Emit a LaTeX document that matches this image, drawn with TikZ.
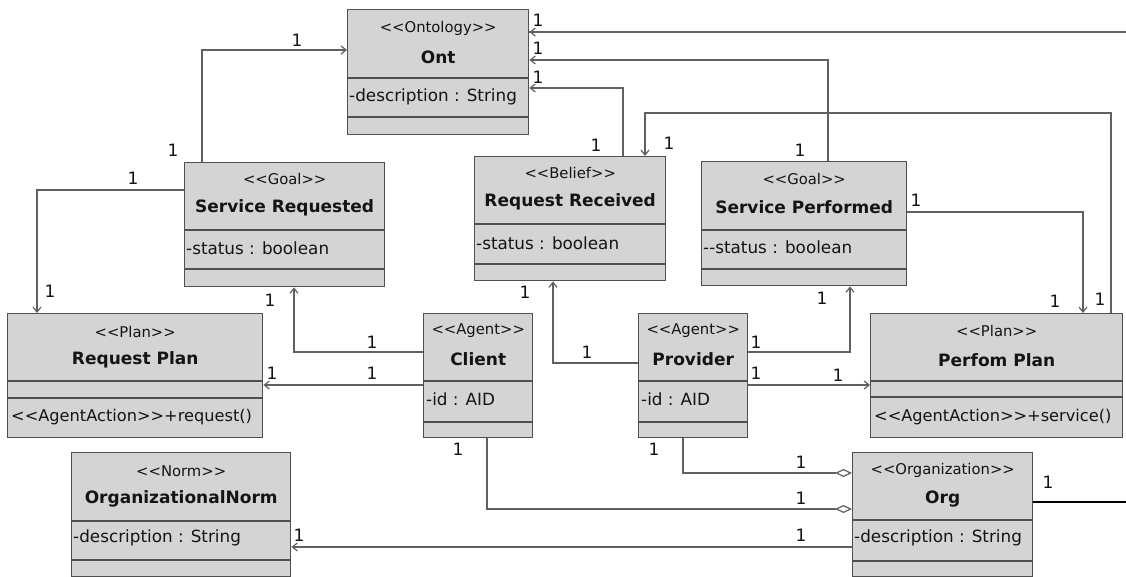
\documentclass[tikz,border=0pt]{standalone}
\usepackage{fontspec}
\newfontfamily\umlfont{DejaVu Sans}
\usetikzlibrary{arrows.meta}

\definecolor{boxfill}{RGB}{212,212,212}
\definecolor{boxline}{RGB}{80,80,80}
\definecolor{connline}{RGB}{96,96,96}
\definecolor{inkcol}{RGB}{20,20,20}

\tikzset{
  cls/.style={draw=boxline, fill=boxfill, line width=1.4pt, inner sep=0pt, anchor=north west},
  divider/.style={draw=boxline, line width=1.4pt},
  stereo/.style={inner sep=0pt, text=inkcol, font=\umlfont\fontsize{14.8}{16}\selectfont},
  cname/.style={inner sep=0pt, text=inkcol, font=\umlfont\bfseries\fontsize{17}{19}\selectfont},
  attr/.style={inner sep=0pt, anchor=west, text=inkcol, font=\umlfont\fontsize{16.8}{19}\selectfont},
  oper/.style={inner sep=0pt, anchor=west, text=inkcol, font=\umlfont\fontsize{16.2}{19}\selectfont},
  mult/.style={inner sep=0pt, text=inkcol, font=\umlfont\fontsize{17}{19}\selectfont},
  conn/.style={draw=connline, line width=1.2pt},
  nav/.style={conn, -{Straight Barb[length=5pt,width=8pt]}},
  agg/.style={conn, -{Diamond[length=17pt,width=8pt,fill=white]}},
}

% a class rectangle with its two compartment lines
\newcommand\classbox[7]{%
  \node[cls, minimum width={#4-#2}, minimum height={#5-#3}] (#1) at (#2,#3) {};
  \draw[divider] (#1.west |- 0,#6) -- (#1.east |- 0,#6);
  \draw[divider] (#1.west |- 0,#7) -- (#1.east |- 0,#7);
}

\begin{document}
\begin{tikzpicture}[x=1pt,y=-1pt]
\fill[white] (0,0) rectangle (1126,577);
\useasboundingbox (0,0) rectangle (1126,577);

% ---------- classes ----------
\classbox{ont}{347}{9}{528}{134}{78}{117}
\node[stereo] (ont-s) at (ont.north |- 0,28) {<<Ontology>>};
\node[cname]  (ont-n) at (ont.north |- 0,57) {Ont};
\node[attr]   (ont-a) at ([xshift=2pt]ont.west |- 0,97) {-description : String};

\classbox{sreq}{184}{162}{384}{286}{230}{269}
\node[stereo] (sreq-s) at (sreq.north |- 0,179) {<<Goal>>};
\node[cname]  (sreq-n) at (sreq.north |- 0,208) {Service Requested};
\node[attr]   (sreq-a) at ([xshift=2pt]sreq.west |- 0,248) {-status : boolean};

\classbox{rrec}{474}{156}{665}{280}{224}{264}
\node[stereo] (rrec-s) at (rrec.north |- 0,173) {<<Belief>>};
\node[cname]  (rrec-n) at (rrec.north |- 0,202) {Request Received};
\node[attr]   (rrec-a) at ([xshift=2pt]rrec.west |- 0,243) {-status : boolean};

\classbox{sperf}{701}{161}{906}{285}{230}{269}
\node[stereo] (sperf-s) at (sperf.north |- 0,179) {<<Goal>>};
\node[cname]  (sperf-n) at (sperf.north |- 0,207) {Service Performed};
\node[attr]   (sperf-a) at ([xshift=2pt]sperf.west |- 0,247) {--status : boolean};

\classbox{rplan}{7}{313}{262}{437}{381}{398}
\node[stereo] (rplan-s) at (rplan.north |- 0,332) {<<Plan>>};
\node[cname]  (rplan-n) at (rplan.north |- 0,360) {Request Plan};
\node[oper]   (rplan-o) at ([xshift=4pt]rplan.west |- 0,417) {<<AgentAction>>+request()};

\classbox{client}{423}{313}{532}{437}{381}{422}
\node[stereo] (client-s) at (client.north |- 0,331) {<<Agent>>};
\node[cname]  (client-n) at (client.north |- 0,359) {Client};
\node[attr]   (client-a) at ([xshift=3pt]client.west |- 0,399) {-id : AID};

\classbox{provider}{638}{313}{747}{437}{381}{422}
\node[stereo] (provider-s) at (provider.north |- 0,331) {<<Agent>>};
\node[cname]  (provider-n) at (provider.north |- 0,359) {Provider};
\node[attr]   (provider-a) at ([xshift=3pt]provider.west |- 0,399) {-id : AID};

\classbox{pplan}{870}{313}{1122}{437}{381}{397}
\node[stereo] (pplan-s) at (pplan.north |- 0,331) {<<Plan>>};
\node[cname]  (pplan-n) at (pplan.north |- 0,360) {Perfom Plan};
\node[oper]   (pplan-o) at ([xshift=4pt]pplan.west |- 0,417) {<<AgentAction>>+service()};

\classbox{norm}{71}{452}{290}{576}{521}{560}
\node[stereo] (norm-s) at (norm.north |- 0,471) {<<Norm>>};
\node[cname]  (norm-n) at (norm.north |- 0,499) {OrganizationalNorm};
\node[attr]   (norm-a) at ([xshift=2pt]norm.west |- 0,538) {-description : String};

\classbox{org}{852}{452}{1032}{576}{520}{561}
\node[stereo] (org-s) at (org.north |- 0,470) {<<Organization>>};
\node[cname]  (org-n) at (org.north |- 0,499) {Org};
\node[attr]   (org-a) at ([xshift=2pt]org.west |- 0,538) {-description : String};

% ---------- loose ends leaving to the right ----------
\coordinate (exitA) at (1126,32);
\coordinate (exitB) at (1126,502);

% ---------- associations ----------
\draw[nav] (sreq.north -| 202,0) |- (ont.west |- 0,50);
\draw[nav] (sreq.west |- 0,190) -| (rplan.north -| 37,0);
\draw[conn] (exitA) -- (ont.east |- 0,32);
\draw[conn, line width=1.3pt, draw=black] (exitA) -- (768,32);
\draw[nav] (exitA) -- (ont.east |- 0,32);
\draw[nav] (sperf.north -| 828,0) |- (ont.east |- 0,60);
\draw[nav] (rrec.north -| 623,0) |- (ont.east |- 0,88);
\draw[nav] (pplan.north -| 1111,0) -- (1111,113) -- (645,113) -- (rrec.north -| 645,0);
\draw[nav] (sperf.east |- 0,212) -| (pplan.north -| 1083,0);
\draw[nav] (client.west |- 0,352) -| (sreq.south -| 294,0);
\draw[nav] (client.west |- 0,385) -- (rplan.east |- 0,385);
\draw[nav] (provider.west |- 0,363) -| (rrec.south -| 553,0);
\draw[nav] (provider.east |- 0,352) -| (sperf.south -| 850,0);
\draw[nav] (provider.east |- 0,385) -- (pplan.west |- 0,385);
\draw[agg] (provider.south -| 683,0) |- (org.west |- 0,473);
\draw[agg] (client.south -| 487,0) |- (org.west |- 0,509);
\draw[nav] (org.west |- 0,547) -- (norm.east |- 0,547);
\draw[conn, draw=black] (org.east |- 0,502) -- (exitB);

% ---------- multiplicities ----------
\node[mult] (m01) at (297,40) {1};
\node[mult] (m02) at (173,150) {1};
\node[mult] (m03) at (133,178) {1};
\node[mult] (m04) at (50,291) {1};
\node[mult] (m05) at (538,20) {1};
\node[mult] (m06) at (538,48) {1};
\node[mult] (m07) at (538,77) {1};
\node[mult] (m08) at (800,150) {1};
\node[mult] (m09) at (596,145) {1};
\node[mult] (m10) at (669,143) {1};
\node[mult] (m11) at (1100,299) {1};
\node[mult] (m12) at (916,200) {1};
\node[mult] (m13) at (1055,301) {1};
\node[mult] (m14) at (372,342) {1};
\node[mult] (m15) at (270,300) {1};
\node[mult] (m16) at (372,373) {1};
\node[mult] (m17) at (272,373) {1};
\node[mult] (m18) at (587,352) {1};
\node[mult] (m19) at (525,292) {1};
\node[mult] (m20) at (756,342) {1};
\node[mult] (m21) at (822,298) {1};
\node[mult] (m22) at (756,373) {1};
\node[mult] (m23) at (838,375) {1};
\node[mult] (m24) at (654,449) {1};
\node[mult] (m25) at (801,462) {1};
\node[mult] (m26) at (458,449) {1};
\node[mult] (m27) at (801,498) {1};
\node[mult] (m28) at (801,535) {1};
\node[mult] (m29) at (299,535) {1};
\node[mult] (m30) at (1048,482) {1};
\end{tikzpicture}
\end{document}
